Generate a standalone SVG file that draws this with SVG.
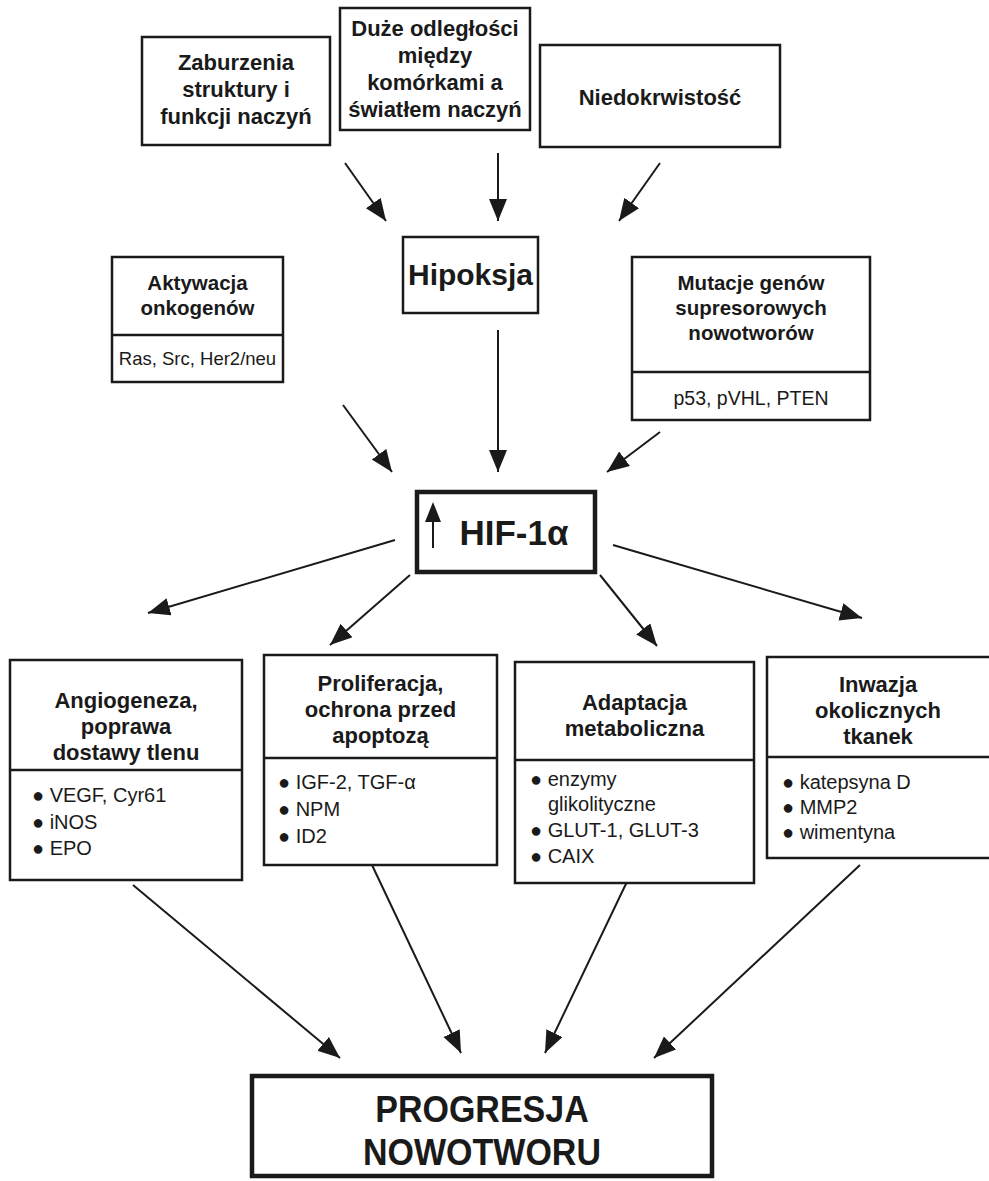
<svg xmlns="http://www.w3.org/2000/svg" width="989" height="1181" viewBox="0 0 989 1181">
<style>
.box{fill:#fff;stroke:#1a1a1a;stroke-width:2.5}
.thick{fill:#fff;stroke:#1a1a1a;stroke-width:4.5}
.div{stroke:#1a1a1a;stroke-width:2.5}
.t{font-family:"Liberation Sans",Arial,sans-serif;font-weight:bold;font-size:22px;fill:#1a1a1a;text-anchor:middle}
.s{font-size:20.5px}
.n{font-family:"Liberation Sans",Arial,sans-serif;font-size:20px;fill:#1a1a1a}
.nc{text-anchor:middle}
.c{stroke:#1a1a1a;stroke-width:2;fill:none;marker-end:url(#ah)}
</style>
<defs>
<marker id="ah" markerUnits="userSpaceOnUse" markerWidth="24" markerHeight="20" refX="22" refY="9" orient="auto">
<path d="M0,0 L22,9 L0,18 Z" fill="#1a1a1a"/>
</marker>
</defs>
<rect width="989" height="1181" fill="#fff"/>

<g id="connectors">
<line class="c" x1="345" y1="163" x2="386" y2="221"/>
<line class="c" x1="498" y1="153" x2="498" y2="221"/>
<line class="c" x1="660" y1="163" x2="619" y2="221"/>
<line class="c" x1="343" y1="405" x2="392" y2="472"/>
<line class="c" x1="498" y1="330" x2="498" y2="472"/>
<line class="c" x1="660" y1="432" x2="607" y2="472"/>
<line class="c" x1="395" y1="540" x2="148" y2="613"/>
<line class="c" x1="410" y1="575" x2="330" y2="645"/>
<line class="c" x1="600" y1="575" x2="657" y2="646"/>
<line class="c" x1="613" y1="545" x2="862" y2="618"/>
<line class="c" x1="133" y1="885" x2="340" y2="1058"/>
<line class="c" x1="372" y1="865" x2="461" y2="1053"/>
<line class="c" x1="635" y1="865" x2="545" y2="1053"/>
<line class="c" x1="860" y1="865" x2="654" y2="1058"/>
</g>

<g id="zaburzenia">
<rect class="box" x="142" y="37" width="188" height="108"/>
<text class="t" x="236" y="70">Zaburzenia</text>
<text class="t" x="236" y="97">struktury i</text>
<text class="t" x="236" y="124">funkcji naczyń</text>
</g>

<g id="duze">
<rect class="box" x="340" y="8" width="190" height="122"/>
<text class="t" x="435" y="36">Duże odległości</text>
<text class="t" x="435" y="63">między</text>
<text class="t" x="435" y="90">komórkami a</text>
<text class="t" x="435" y="117">światłem naczyń</text>
</g>

<g id="niedokrwistosc">
<rect class="box" x="540" y="45" width="240" height="102"/>
<text class="t" x="660" y="105">Niedokrwistość</text>
</g>

<g id="hipoksja">
<rect class="box" x="403" y="237" width="135" height="76"/>
<text class="t" x="470.5" y="285" style="font-size:30px">Hipoksja</text>
</g>

<g id="aktywacja">
<rect class="box" x="112" y="257" width="171" height="125"/>
<line class="div" x1="112" y1="335" x2="283" y2="335"/>
<text class="t s" x="197.5" y="290">Aktywacja</text>
<text class="t s" x="197.5" y="315">onkogenów</text>
<text class="n nc" x="197.5" y="365" style="font-size:18.5px">Ras, Src, Her2/neu</text>
</g>

<g id="mutacje">
<rect class="box" x="632" y="257" width="238" height="163"/>
<line class="div" x1="632" y1="372" x2="870" y2="372"/>
<text class="t s" x="751" y="290">Mutacje genów</text>
<text class="t s" x="751" y="315">supresorowych</text>
<text class="t s" x="751" y="340">nowotworów</text>
<text class="n nc" x="751" y="405" style="font-size:19.5px">p53, pVHL, PTEN</text>
</g>

<g id="hif">
<rect class="thick" x="417" y="492" width="178" height="80"/>
<line x1="433" y1="548" x2="433" y2="518" stroke="#1a1a1a" stroke-width="2"/>
<path d="M425,522 L433,502 L441,522 Z" fill="#1a1a1a"/>
<text class="t" x="514" y="545" style="font-size:35px">HIF-1α</text>
</g>

<g id="angiogeneza">
<rect class="box" x="10" y="660" width="232" height="220"/>
<line class="div" x1="10" y1="770" x2="242" y2="770"/>
<text class="t" x="126" y="708">Angiogeneza,</text>
<text class="t" x="126" y="734">poprawa</text>
<text class="t" x="126" y="760">dostawy tlenu</text>
<text class="n" x="32" y="802">● VEGF, Cyr61</text>
<text class="n" x="32" y="829">● iNOS</text>
<text class="n" x="32" y="855">● EPO</text>
</g>

<g id="proliferacja">
<rect class="box" x="264" y="655" width="233" height="210"/>
<line class="div" x1="264" y1="758" x2="497" y2="758"/>
<text class="t" x="380.5" y="691">Proliferacja,</text>
<text class="t" x="380.5" y="717">ochrona przed</text>
<text class="t" x="380.5" y="743">apoptozą</text>
<text class="n" x="278" y="789">● IGF-2, TGF-α</text>
<text class="n" x="278" y="816">● NPM</text>
<text class="n" x="278" y="843">● ID2</text>
</g>

<g id="adaptacja">
<rect class="box" x="515" y="662" width="239" height="221"/>
<line class="div" x1="515" y1="760" x2="754" y2="760"/>
<text class="t" x="634.5" y="710">Adaptacja</text>
<text class="t" x="634.5" y="736">metaboliczna</text>
<text class="n" x="530" y="786">● enzymy</text>
<text class="n" x="548" y="811">glikolityczne</text>
<text class="n" x="530" y="837">● GLUT-1, GLUT-3</text>
<text class="n" x="530" y="863">● CAIX</text>
</g>

<g id="inwazja">
<rect class="box" x="767" y="657" width="230" height="201"/>
<line class="div" x1="767" y1="757" x2="997" y2="757"/>
<text class="t" x="878" y="692">Inwazja</text>
<text class="t" x="878" y="718">okolicznych</text>
<text class="t" x="878" y="744">tkanek</text>
<text class="n" x="782" y="789">● katepsyna D</text>
<text class="n" x="782" y="814">● MMP2</text>
<text class="n" x="782" y="839">● wimentyna</text>
</g>

<g id="progresja">
<rect class="thick" x="252" y="1076" width="460" height="100"/>
<g transform="translate(0,1122) scale(1,1.08)">
<text class="t" x="482" y="0" style="font-size:34px">PROGRESJA</text>
</g>
<g transform="translate(0,1165) scale(1,1.08)">
<text class="t" x="482" y="0" style="font-size:34px">NOWOTWORU</text>
</g>
</g>
</svg>
